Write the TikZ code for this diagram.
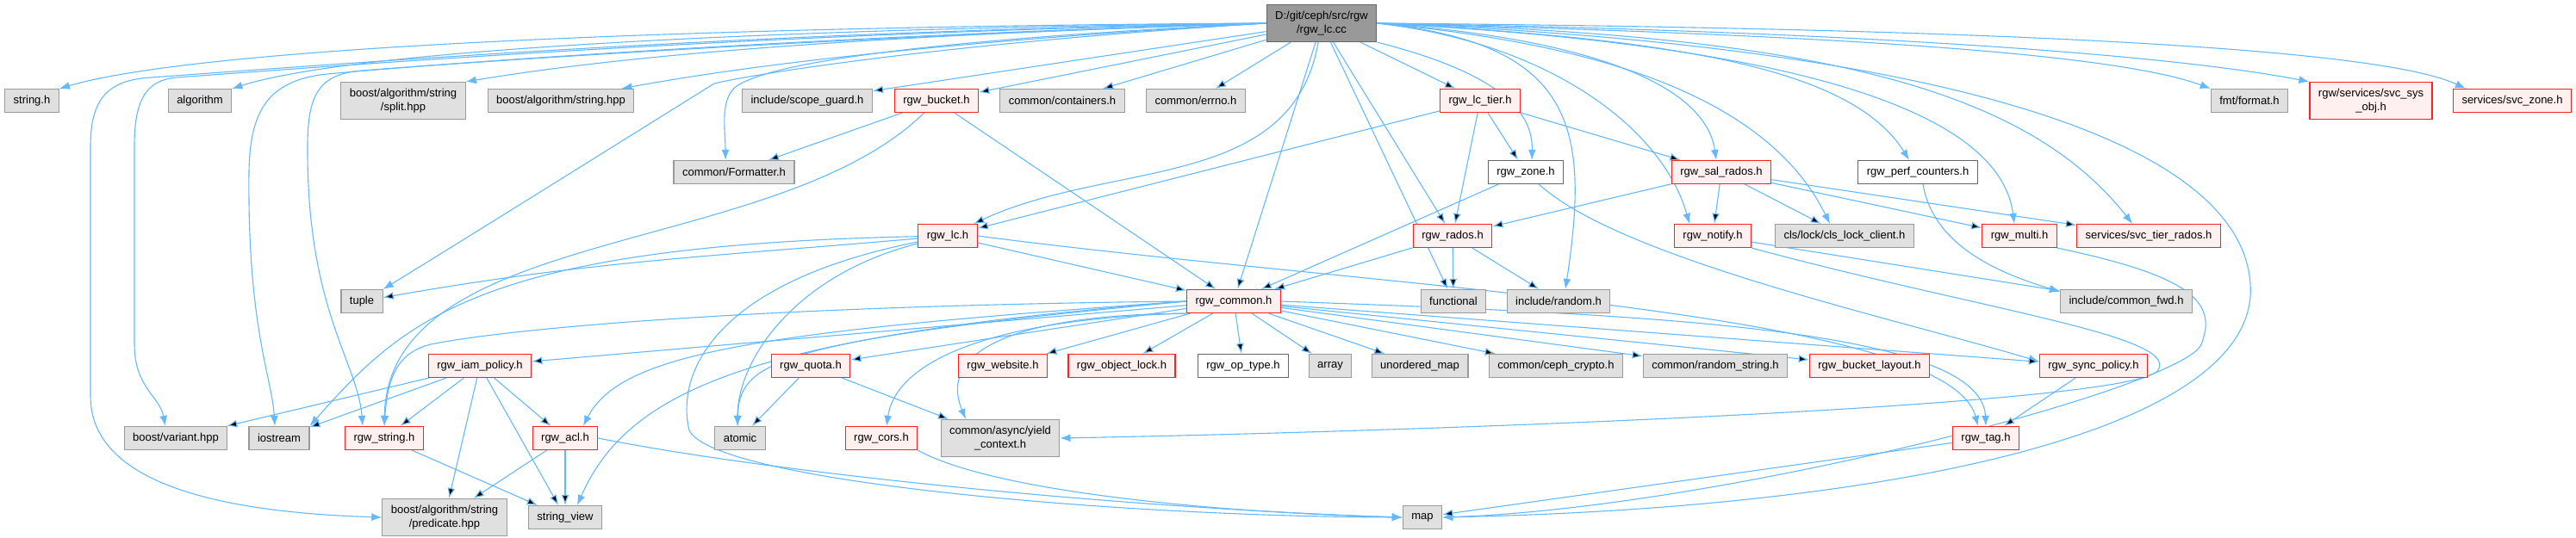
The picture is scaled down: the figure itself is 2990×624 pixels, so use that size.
\documentclass[tikz,border=0pt]{standalone}
\usepackage{fontspec}
\setmainfont{Liberation Sans}
\usetikzlibrary{arrows.meta}
\pgfdeclarelayer{bg}
\pgfsetlayers{bg,main}
\definecolor{edgeblue}{HTML}{63B8FF}
\definecolor{extfill}{HTML}{E0E0E0}
\definecolor{extline}{HTML}{999999}
\definecolor{hdrfill}{HTML}{FFF0F0}
\definecolor{hdrline}{HTML}{FF2020}
\definecolor{locline}{HTML}{666666}
\definecolor{rootfill}{HTML}{999999}

\begin{document}
\begin{tikzpicture}[x=1pt, y=1pt,
    box/.style = {draw, line width=1.2pt, inner xsep=10pt, inner ysep=0pt, minimum height=27pt, font=\fontsize{13}{16}\selectfont, text=black},
    ext/.style = {box, draw=extline, fill=extfill},
    hdr/.style = {box, draw=hdrline, fill=hdrfill},
    loc/.style = {box, draw=locline, fill=white},
    two/.style = {align=center, minimum height=43pt},
    dep/.style = {draw=edgeblue, line width=1.1pt, -{Latex[length=12pt,width=9pt]}}]
            \useasboundingbox (0,0) rectangle (2990,-624);

            \node[loc, two, fill=rootfill] (root) at (1534,-27) {D:/git/ceph/src/rgw\\/rgw\_lc.cc};

            % first row
            \node[ext] (stringh) at (37,-117) {string.h};
            \node[ext] (algorithm) at (232,-117) {algorithm};
            \node[ext, two] (split) at (468,-117) {boost/algorithm/string\\/split.hpp};
            \node[ext] (strhpp) at (651,-117) {boost/algorithm/string.hpp};
            \node[ext] (scopeguard) at (937,-117) {include/scope\_guard.h};
            \node[hdr] (bucket) at (1087,-117) {rgw\_bucket.h};
            \node[ext] (containers) at (1233,-117) {common/containers.h};
            \node[ext] (errno) at (1388,-117) {common/errno.h};
            \node[hdr] (lctier) at (1718,-117) {rgw\_lc\_tier.h};
            \node[ext] (fmtformat) at (2611,-117) {fmt/format.h};
            \node[hdr, two] (sysobj) at (2752,-117) {rgw/services/svc\_sys\\\_obj.h};
            \node[hdr] (svczone) at (2916,-117) {services/svc\_zone.h};

            \node[ext] (formatter) at (852,-200) {common/Formatter.h};
            \node[loc] (zone) at (1771,-200) {rgw\_zone.h};
            \node[hdr] (salrados) at (1998,-200) {rgw\_sal\_rados.h};
            \node[loc] (perfcnt) at (2226,-200) {rgw\_perf\_counters.h};

            \node[hdr] (lch) at (1100,-274) {rgw\_lc.h};
            \node[hdr] (rados) at (1686,-274) {rgw\_rados.h};
            \node[hdr] (notify) at (1988,-274) {rgw\_notify.h};
            \node[ext] (clslock) at (2141,-274) {cls/lock/cls\_lock\_client.h};
            \node[hdr] (multi) at (2344,-274) {rgw\_multi.h};
            \node[hdr] (tierrados) at (2494,-274) {services/svc\_tier\_rados.h};

            \node[ext] (tuple) at (420,-350) {tuple};
            \node[hdr] (common) at (1432,-350) {rgw\_common.h};
            \node[ext] (functional) at (1687,-350) {functional};
            \node[ext] (random) at (1809,-350) {include/random.h};
            \node[ext] (commonfwd) at (2468,-350) {include/common\_fwd.h};

            \node[hdr] (iam) at (557,-425) {rgw\_iam\_policy.h};
            \node[hdr] (quota) at (941,-425) {rgw\_quota.h};
            \node[hdr] (website) at (1164,-425) {rgw\_website.h};
            \node[hdr] (objlock) at (1302,-425) {rgw\_object\_lock.h};
            \node[loc] (optype) at (1443,-425) {rgw\_op\_type.h};
            \node[ext] (array) at (1544,-425) {array};
            \node[ext] (unordmap) at (1648,-425) {unordered\_map};
            \node[ext] (crypto) at (1806,-425) {common/ceph\_crypto.h};
            \node[ext] (randstr) at (1991,-425) {common/random\_string.h};
            \node[hdr] (bktlayout) at (2170,-425) {rgw\_bucket\_layout.h};
            \node[hdr] (syncpol) at (2430,-425) {rgw\_sync\_policy.h};

            \node[ext] (variant) at (204,-509) {boost/variant.hpp};
            \node[ext] (iostream) at (324,-509) {iostream};
            \node[hdr] (rgwstring) at (446,-509) {rgw\_string.h};
            \node[hdr] (acl) at (656,-509) {rgw\_acl.h};
            \node[ext] (atomic) at (859,-509) {atomic};
            \node[hdr] (cors) at (1023,-509) {rgw\_cors.h};
            \node[ext, two] (yield) at (1161,-509) {common/async/yield\\\_context.h};
            \node[hdr] (tag) at (2305,-509) {rgw\_tag.h};

            \node[ext, two] (predicate) at (516,-601) {boost/algorithm/string\\/predicate.hpp};
            \node[ext] (stringview) at (656,-601) {string\_view};
            \node[ext] (map) at (1651,-601) {map};

            \begin{pgfonlayer}{bg}
            % rgw_lc.cc
            \draw[dep] (root.west) .. controls (900,-30) and (250,-50) .. (stringh.north east);
            \draw[dep] (root.west) .. controls (950,-32) and (420,-55) .. (algorithm.north east);
            \draw[dep] (root.west) .. controls (1050,-40) and (750,-60) .. (split.north east);
            \draw[dep] (root.west) .. controls (1150,-45) and (900,-70) .. ([xshift=-15pt]strhpp.north east);
            \draw[dep] (root.west) .. controls (1100,-45) and (900,-70) .. (855,-100)
                .. controls (835,-115) and (842,-150) .. ([xshift=-10pt]formatter.north);
            \draw[dep] (root.west) .. controls (1100,-50) and (880,-85) .. (829,-97)
                .. controls (760,-140) and (520,-290) .. (tuple.north east);
            \draw[dep] (root.west) .. controls (900,-36) and (450,-70) .. (175,-90)
                .. controls (125,-93) and (105,-115) .. (105,-170) -- (105,-460)
                .. controls (105,-560) and (250,-595) .. (predicate.west);
            \draw[dep] (root.west) .. controls (900,-38) and (450,-72) .. (205,-90)
                .. controls (170,-93) and (156,-115) .. (156,-170) -- (156,-400)
                .. controls (156,-450) and (185,-460) .. ([xshift=-12pt]variant.north);
            \draw[dep] (root.west) .. controls (1000,-40) and (550,-70) .. (380,-86)
                .. controls (310,-93) and (290,-130) .. (289,-200)
                .. controls (287,-380) and (316,-440) .. ([xshift=-5pt]iostream.north);
            \draw[dep] (root.west) .. controls (1000,-42) and (600,-68) .. (420,-82)
                .. controls (370,-86) and (357,-110) .. (357,-170)
                .. controls (356,-360) and (415,-420) .. ([xshift=-25pt]rgwstring.north);
            \path[dep] (root) edge (scopeguard)
                (root) edge (bucket)
                (root) edge (containers)
                (root) edge (errno)
                (root) edge (lctier)
                (root) edge (common)
                (root) edge (functional)
                (root) edge (rados)
                (root) edge[out=-100, in=25] (lch);
            \draw[dep] (root.south east) .. controls (1720,-80) and (1780,-120) .. ([xshift=7pt]zone.north);
            \draw[dep] (root.east) .. controls (1830,-50) and (1845,-150) .. ([xshift=8pt]random.north);
            \draw[dep] (root.east) .. controls (1800,-50) and (1930,-150) .. ([xshift=-27pt]notify.north);
            \draw[dep] (root.east) .. controls (1850,-45) and (1980,-100) .. ([xshift=-6pt]salrados.north);
            \draw[dep] (root.east) .. controls (1850,-50) and (2050,-110) .. ([xshift=-17pt]clslock.north);
            \draw[dep] (root.east) .. controls (1950,-45) and (2150,-80) .. ([xshift=-10pt]perfcnt.north);
            \draw[dep] (root.east) .. controls (2050,-50) and (2320,-120) .. ([xshift=-6pt]multi.north);
            \draw[dep] (root.east) .. controls (2100,-40) and (2350,-100) .. ([xshift=-19pt]tierrados.north);
            \draw[dep] (root.east) .. controls (2100,-40) and (2450,-60) .. (fmtformat.north west);
            \draw[dep] (root.east) .. controls (2100,-35) and (2500,-60) .. (sysobj.north west);
            \draw[dep] (root.east) .. controls (2200,-32) and (2750,-50) .. ([xshift=15pt]svczone.north west);
            \draw[dep] (root.east) .. controls (2200,-50) and (2600,-150) .. (2612,-330)
                .. controls (2624,-500) and (2200,-590) .. (map.east);

            % second level
            \path[dep] (bucket) edge (formatter)
                (bucket) edge (common)
                (lctier) edge (lch)
                (lctier) edge (rados)
                (lctier) edge (zone)
                (lctier) edge (salrados)
                (zone) edge (common)
                (salrados) edge (rados)
                (salrados) edge (notify)
                (salrados) edge (clslock)
                (salrados) edge (multi)
                (salrados) edge (tierrados)
                (rados) edge (common)
                (rados) edge (functional)
                (rados) edge (random)
                (notify) edge (commonfwd)
                (lch) edge (common)
                (lch) edge[out=185, in=10] (tuple);
            \draw[dep] (zone) .. controls (1880,-300) and (2200,-370) .. ([yshift=5pt]syncpol.west);
            \draw[dep] (bucket) .. controls (900,-300) and (450,-260) .. (rgwstring.north);
            \draw[dep] ([xshift=6pt]perfcnt.south) .. controls (2245,-290) and (2330,-320) .. ([yshift=-3pt]commonfwd.north west);
            \draw[dep] (notify.south east) .. controls (2300,-360) and (2530,-390) .. (2505,-430)
                .. controls (2480,-470) and (1700,-500) .. (yield.east);
            \draw[dep] (multi.south east) .. controls (2540,-320) and (2575,-350) .. (2555,-400)
                .. controls (2535,-450) and (2000,-590) .. (map.east);
            \draw[dep] (lch) .. controls (560,-285) and (470,-370) .. (iostream.north east);
            \draw[dep] (lch) .. controls (920,-320) and (856,-420) .. ([xshift=-3pt]atomic.north);
            \draw[dep] (lch) .. controls (820,-330) and (785,-440) .. (800,-500)
                .. controls (830,-560) and (1300,-600) .. (map.west);
            \draw[dep] (lch.east) .. controls (1600,-335) and (2260,-360) .. ([xshift=-9pt]tag.north);

            % rgw_common.h
            \path[dep] (common) edge (iam)
                (common) edge (quota)
                (common) edge (website)
                (common) edge (objlock)
                (common) edge (optype)
                (common) edge (array)
                (common) edge (unordmap)
                (common) edge (crypto)
                (common) edge (randstr)
                (common) edge (bktlayout)
                (common) edge (syncpol);
            \draw[dep] (common.west) .. controls (900,-355) and (600,-380) .. (500,-400)
                .. controls (460,-410) and (450,-440) .. (rgwstring.north);
            \draw[dep] (common.west) .. controls (880,-385) and (720,-410) .. ([xshift=21pt]acl.north);
            \draw[dep] (common.west) .. controls (880,-390) and (730,-450) .. ([xshift=14pt]stringview.north);
            \draw[dep] (common.west) .. controls (900,-395) and (858,-420) .. ([xshift=-3pt]atomic.north);
            \draw[dep] (common.south west) .. controls (1150,-370) and (1040,-420) .. ([xshift=6pt]cors.north);
            \draw[dep] (common.south west) .. controls (1200,-365) and (1085,-400) .. ([xshift=-40pt]yield.north);
            \draw[dep] (common.east) .. controls (1900,-365) and (2300,-380) .. (tag.north);

            % lower levels
            \path[dep] (iam) edge (variant)
                (iam) edge (iostream)
                (iam) edge (rgwstring)
                (iam) edge (acl)
                (iam) edge (predicate)
                (iam) edge (stringview)
                (quota) edge (atomic)
                (quota) edge ([xshift=-60pt]yield.north)
                (rgwstring) edge (stringview)
                (acl) edge (predicate)
                (acl) edge (stringview)
                (syncpol) edge (tag)
                (tag) edge (map);
            \draw[dep] (acl.east) .. controls (900,-550) and (1300,-590) .. (map.west);
            \draw[dep] (cors.south east) .. controls (1150,-570) and (1400,-595) .. (map.west);
            \end{pgfonlayer}
        \end{tikzpicture}
\end{document}
